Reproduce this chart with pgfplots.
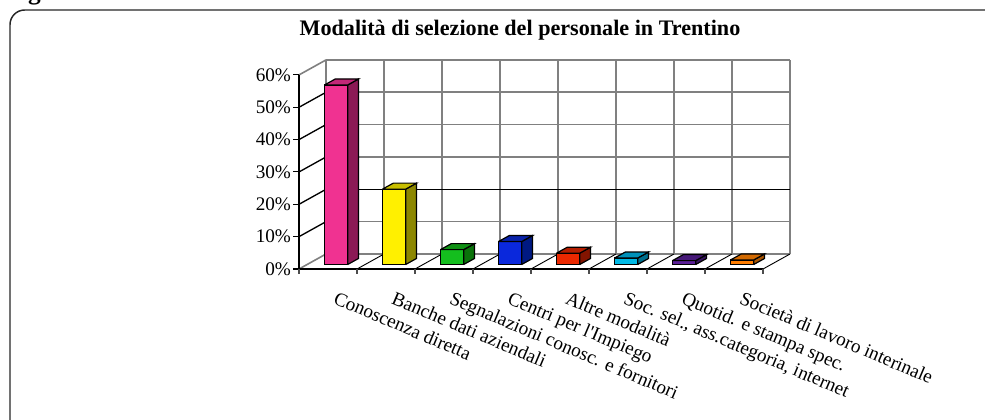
\documentclass[border=0pt]{standalone}
\usepackage{pgfplots}
\pgfplotsset{compat=1.18}
\usepackage{fontspec}
\setmainfont{Liberation Serif}
\definecolor{c1f}{RGB}{240,50,145}\definecolor{c1s}{RGB}{140,25,85}\definecolor{c1t}{RGB}{195,40,120}
\definecolor{c2f}{RGB}{255,240,0}\definecolor{c2s}{RGB}{140,135,0}\definecolor{c2t}{RGB}{200,190,0}
\definecolor{c3f}{RGB}{20,190,30}\definecolor{c3s}{RGB}{10,115,10}\definecolor{c3t}{RGB}{15,145,20}
\definecolor{c4f}{RGB}{10,40,220}\definecolor{c4s}{RGB}{0,25,130}\definecolor{c4t}{RGB}{10,35,170}
\definecolor{c5f}{RGB}{235,40,0}\definecolor{c5s}{RGB}{130,20,0}\definecolor{c5t}{RGB}{180,30,0}
\definecolor{c6f}{RGB}{0,185,230}\definecolor{c6s}{RGB}{0,110,140}\definecolor{c6t}{RGB}{0,145,185}
\definecolor{c7f}{RGB}{90,30,150}\definecolor{c7s}{RGB}{55,20,95}\definecolor{c7t}{RGB}{70,25,120}
\definecolor{c8f}{RGB}{255,125,0}\definecolor{c8s}{RGB}{170,85,0}\definecolor{c8t}{RGB}{210,105,0}
\colorlet{wallgrid}{black!50}
\begin{document}
\begin{tikzpicture}
\useasboundingbox (0,0) rectangle (738.75pt,314.25pt);
\draw[line width=1.1pt, rounded corners=11pt, black!85] (7.5pt,-30pt) -- (7.5pt,306.75pt) -- (790pt,306.75pt);
\node[font=\bfseries\fontsize{19}{22}\selectfont, anchor=base west, inner sep=0pt] at (4pt,314.3pt) {Figura 3};
\node[font=\bfseries\fontsize{16.6}{19}\selectfont] at (390pt,291.5pt) {Modalità di selezione del personale in Trentino};
\begin{axis}[
 at={(224.25pt,112.5pt)}, anchor=origin,
 x={(43.5pt,0pt)}, y={(20.25pt,11.25pt)}, z={(0pt,2.426pt)},
 xmin=0, xmax=8, ymin=0, ymax=1, zmin=0, zmax=60,
 clip=false,
 axis line style={draw=none},
 xtick={0.5,1.5,...,7.5},
 xticklabels={Conoscenza diretta, Banche dati aziendali, Segnalazioni conosc. e fornitori, Centri per l\textquotesingle Impiego, Altre modalità, {Soc. sel., ass.categoria, internet}, Quotid. e stampa spec., Società di lavoro interinale},
 ytick=\empty,
 ztick={0,10,...,60},
 zticklabels={0\%,10\%,20\%,30\%,40\%,50\%,60\%},
 grid=none,
 tick style={draw=none},
 tick label style={font=\fontsize{14.4}{17}\selectfont},
 xticklabel style={rotate=-23, anchor=north west, inner sep=1pt, xshift=12pt, yshift=-11pt},
 zticklabel style={anchor=east, xshift=-2.5pt},
]
% back wall grid
\pgfplotsinvokeforeach{0,...,8}{\draw[wallgrid, line width=1.2pt] (axis cs:#1,1,0) -- (axis cs:#1,1,60);}
\pgfplotsinvokeforeach{0,10,30,40,50,60}{\draw[wallgrid, line width=1.2pt] (axis cs:0,1,#1) -- (axis cs:8,1,#1);}
\draw[black, line width=1pt] (axis cs:0,1,20) -- (axis cs:8,1,20);
% left wall grid
\addplot3[black, line width=1pt] coordinates {(0,0,10) (0,1,10)};
\addplot3[black, line width=1pt] coordinates {(0,0,20) (0,1,20)};
\addplot3[black, line width=1pt] coordinates {(0,0,30) (0,1,30)};
\addplot3[black, line width=1pt] coordinates {(0,0,40) (0,1,40)};
\addplot3[black, line width=1pt] coordinates {(0,0,50) (0,1,50)};
\addplot3[wallgrid, line width=1.2pt] coordinates {(0,0,60) (0,1,60)};
% floor grid
\draw[wallgrid, line width=1.2pt] (axis cs:0,0,0) -- (axis cs:0,1,0);
\pgfplotsinvokeforeach{1,...,8}{\draw[black, line width=0.7pt] (axis cs:#1,0,0) -- (axis cs:#1,1,0);}
% axes
\draw[black, line width=1pt] (axis cs:0,0,0) -- (axis cs:0,0,60);
\draw[black, line width=1.1pt] (axis cs:0,0,0) -- (axis cs:8,0,0);
\pgfplotsinvokeforeach{0,10,...,60}{\draw[black, line width=0.8pt] (axis cs:0,0,#1) -- ++(-4.5pt,0pt);}
\pgfplotsinvokeforeach{0,...,8}{\draw[black!70, line width=0.8pt] (axis cs:#1,0,0) -- ++(0pt,-3.75pt);}
% bar 1
\addplot3[fill=c1f, draw=black, line width=0.9pt] coordinates {(0.3,0.3,0) (0.7,0.3,0) (0.7,0.3,55.5) (0.3,0.3,55.5) (0.3,0.3,0)};
\addplot3[fill=c1s, draw=black, line width=0.9pt] coordinates {(0.7,0.3,0) (0.7,0.7,0) (0.7,0.7,55.5) (0.7,0.3,55.5) (0.7,0.3,0)};
\addplot3[fill=c1t, draw=black, line width=0.9pt] coordinates {(0.3,0.3,55.5) (0.7,0.3,55.5) (0.7,0.7,55.5) (0.3,0.7,55.5) (0.3,0.3,55.5)};
% bar 2
\addplot3[fill=c2f, draw=black, line width=0.9pt] coordinates {(1.3,0.3,0) (1.7,0.3,0) (1.7,0.3,23.3) (1.3,0.3,23.3) (1.3,0.3,0)};
\addplot3[fill=c2s, draw=black, line width=0.9pt] coordinates {(1.7,0.3,0) (1.7,0.7,0) (1.7,0.7,23.3) (1.7,0.3,23.3) (1.7,0.3,0)};
\addplot3[fill=c2t, draw=black, line width=0.9pt] coordinates {(1.3,0.3,23.3) (1.7,0.3,23.3) (1.7,0.7,23.3) (1.3,0.7,23.3) (1.3,0.3,23.3)};
% bar 3
\addplot3[fill=c3f, draw=black, line width=0.9pt] coordinates {(2.3,0.3,0) (2.7,0.3,0) (2.7,0.3,4.6) (2.3,0.3,4.6) (2.3,0.3,0)};
\addplot3[fill=c3s, draw=black, line width=0.9pt] coordinates {(2.7,0.3,0) (2.7,0.7,0) (2.7,0.7,4.6) (2.7,0.3,4.6) (2.7,0.3,0)};
\addplot3[fill=c3t, draw=black, line width=0.9pt] coordinates {(2.3,0.3,4.6) (2.7,0.3,4.6) (2.7,0.7,4.6) (2.3,0.7,4.6) (2.3,0.3,4.6)};
% bar 4
\addplot3[fill=c4f, draw=black, line width=0.9pt] coordinates {(3.3,0.3,0) (3.7,0.3,0) (3.7,0.3,7.1) (3.3,0.3,7.1) (3.3,0.3,0)};
\addplot3[fill=c4s, draw=black, line width=0.9pt] coordinates {(3.7,0.3,0) (3.7,0.7,0) (3.7,0.7,7.1) (3.7,0.3,7.1) (3.7,0.3,0)};
\addplot3[fill=c4t, draw=black, line width=0.9pt] coordinates {(3.3,0.3,7.1) (3.7,0.3,7.1) (3.7,0.7,7.1) (3.3,0.7,7.1) (3.3,0.3,7.1)};
% bar 5
\addplot3[fill=c5f, draw=black, line width=0.9pt] coordinates {(4.3,0.3,0) (4.7,0.3,0) (4.7,0.3,3.5) (4.3,0.3,3.5) (4.3,0.3,0)};
\addplot3[fill=c5s, draw=black, line width=0.9pt] coordinates {(4.7,0.3,0) (4.7,0.7,0) (4.7,0.7,3.5) (4.7,0.3,3.5) (4.7,0.3,0)};
\addplot3[fill=c5t, draw=black, line width=0.9pt] coordinates {(4.3,0.3,3.5) (4.7,0.3,3.5) (4.7,0.7,3.5) (4.3,0.7,3.5) (4.3,0.3,3.5)};
% bar 6
\addplot3[fill=c6f, draw=black, line width=0.9pt] coordinates {(5.3,0.3,0) (5.7,0.3,0) (5.7,0.3,2.0) (5.3,0.3,2.0) (5.3,0.3,0)};
\addplot3[fill=c6s, draw=black, line width=0.9pt] coordinates {(5.7,0.3,0) (5.7,0.7,0) (5.7,0.7,2.0) (5.7,0.3,2.0) (5.7,0.3,0)};
\addplot3[fill=c6t, draw=black, line width=0.9pt] coordinates {(5.3,0.3,2.0) (5.7,0.3,2.0) (5.7,0.7,2.0) (5.3,0.7,2.0) (5.3,0.3,2.0)};
% bar 7
\addplot3[fill=c7f, draw=black, line width=0.9pt] coordinates {(6.3,0.3,0) (6.7,0.3,0) (6.7,0.3,1.2) (6.3,0.3,1.2) (6.3,0.3,0)};
\addplot3[fill=c7s, draw=black, line width=0.9pt] coordinates {(6.7,0.3,0) (6.7,0.7,0) (6.7,0.7,1.2) (6.7,0.3,1.2) (6.7,0.3,0)};
\addplot3[fill=c7t, draw=black, line width=0.9pt] coordinates {(6.3,0.3,1.2) (6.7,0.3,1.2) (6.7,0.7,1.2) (6.3,0.7,1.2) (6.3,0.3,1.2)};
% bar 8
\addplot3[fill=c8f, draw=black, line width=0.9pt] coordinates {(7.3,0.3,0) (7.7,0.3,0) (7.7,0.3,1.4) (7.3,0.3,1.4) (7.3,0.3,0)};
\addplot3[fill=c8s, draw=black, line width=0.9pt] coordinates {(7.7,0.3,0) (7.7,0.7,0) (7.7,0.7,1.4) (7.7,0.3,1.4) (7.7,0.3,0)};
\addplot3[fill=c8t, draw=black, line width=0.9pt] coordinates {(7.3,0.3,1.4) (7.7,0.3,1.4) (7.7,0.7,1.4) (7.3,0.7,1.4) (7.3,0.3,1.4)};
\end{axis}
\end{tikzpicture}
\end{document}
